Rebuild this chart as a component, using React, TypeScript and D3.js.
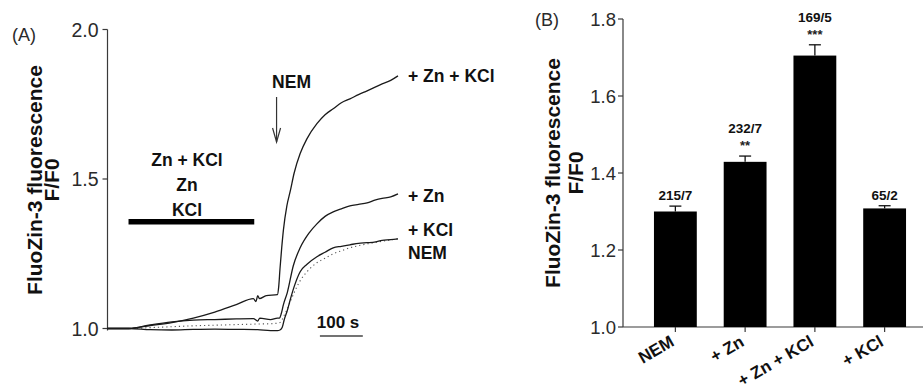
import React from "react";
import * as d3 from "d3";

// ---------- Panel A: time traces ----------
const tZnKCl = [0, 50, 100, 150, 200, 250, 300, 340, 346, 350, 354, 370, 396, 399, 402, 406, 410, 418, 426, 435, 449, 465, 488, 507, 526, 545, 565, 585, 605, 620, 640, 660, 677];
const vZnKCl = [1.0, 1.0, 1.01, 1.02, 1.035, 1.055, 1.08, 1.10, 1.09, 1.11, 1.10, 1.11, 1.113, 1.14, 1.2, 1.27, 1.33, 1.41, 1.46, 1.52, 1.585, 1.635, 1.685, 1.715, 1.735, 1.755, 1.768, 1.782, 1.795, 1.805, 1.818, 1.83, 1.845];

const tZn = [0, 50, 100, 150, 200, 250, 300, 340, 350, 355, 380, 396, 401, 405, 410, 419, 433, 449, 470, 488, 507, 526, 545, 565, 585, 605, 625, 640, 660, 677];
const vZn = [1.0, 1.0, 1.012, 1.022, 1.028, 1.03, 1.032, 1.033, 1.025, 1.035, 1.03, 1.035, 1.035, 1.05, 1.08, 1.12, 1.21, 1.27, 1.32, 1.35, 1.375, 1.39, 1.4, 1.41, 1.415, 1.42, 1.43, 1.435, 1.44, 1.45];

const tKCl = [0, 50, 100, 150, 200, 250, 300, 350, 380, 396, 402, 407, 412, 419, 426, 435, 449, 465, 488, 507, 526, 545, 565, 585, 605, 625, 640, 660, 677];
const vKCl = [1.0, 1.0, 0.996, 0.995, 0.997, 0.998, 0.997, 0.996, 0.993, 0.993, 0.995, 1.003, 1.03, 1.06, 1.097, 1.14, 1.19, 1.215, 1.24, 1.255, 1.27, 1.275, 1.28, 1.285, 1.287, 1.29, 1.295, 1.297, 1.3];

const tNEM = [0, 50, 100, 150, 200, 250, 300, 350, 380, 396, 402, 407, 412, 419, 426, 435, 449, 465, 488, 507, 526, 545, 565, 585, 605, 625, 640, 660, 677];
const vNEM = [1.0, 1.0, 1.003, 1.006, 1.009, 1.011, 1.013, 1.015, 1.016, 1.018, 1.02, 1.03, 1.045, 1.065, 1.09, 1.12, 1.16, 1.19, 1.22, 1.235, 1.25, 1.26, 1.27, 1.277, 1.283, 1.288, 1.292, 1.296, 1.3];

const traceEndLabels = ["+ Zn + KCl", "+ Zn", "+ KCl", "NEM"];
const traceLabelValues = [1.845, 1.445, 1.33, 1.255];
const treatmentLabels = ["Zn + KCl", "Zn", "KCl"];
const treatmentWindow = [49, 342];
const treatmentLevel = 1.357;
const nemTime = 394;
const scaleBarTimes = [495, 595];
const yTicksA = [1.0, 1.5, 2.0];

// ---------- Panel B: bars ----------
const barCategories = ["NEM", "+ Zn", "+ Zn + KCl", "+ KCl"];
const barMeans = [1.3, 1.429, 1.705, 1.308];
const barErrors = [0.014, 0.015, 0.028, 0.007];
const barCounts = ["215/7", "232/7", "169/5", "65/2"];
const barStars = ["", "**", "***", ""];
const yTicksB = [1.0, 1.2, 1.4, 1.6, 1.8];

const FONT = "'Liberation Sans', Arial, Helvetica, sans-serif";
const AXIS = "#3a3a3a";
const TXT = "#2a2a2a";

export default function App() {
  // Panel A scales
  const xA = d3.scaleLinear().domain([0, 677]).range([107.5, 398]);
  const yA = d3.scaleLinear().domain([1, 2]).range([328.5, 29.5]);
  const line = (ts: number[], vs: number[]) =>
    d3.line<number>().x((_, i) => xA(ts[i])).y((v) => yA(v)).curve(d3.curveMonotoneX)(vs) || "";

  // Panel B scales
  const xB = d3.scaleBand<string>().domain(barCategories).range([640.5, 919.5]).paddingInner(0.386).paddingOuter(0.193);
  const yB = d3.scaleLinear().domain([1, 1.8]).range([327, 19]);
  const axB = 623;

  const arrowX = xA(nemTime);

  return (
    <svg width={923} height={391} style={{ position: "absolute", left: 0, top: 0, background: "#fff" }} fontFamily={FONT}>
      {/* ===== Panel A ===== */}
      <text x={12} y={41} fontSize={18} fill={TXT}>(A)</text>
      <g transform="translate(42,180) rotate(-90)">
        <text textAnchor="middle" fontSize={21} fontWeight="bold" fill="#111">FluoZin-3 fluorescence</text>
      </g>
      <g transform="translate(59,180) rotate(-90)">
        <text textAnchor="middle" fontSize={21} fontWeight="bold" fill="#111">F/F0</text>
      </g>
      <line x1={xA(0)} x2={xA(0)} y1={yA(2)} y2={yA(1) + 2} stroke={AXIS} strokeWidth={1.2} />
      {yTicksA.map((t) => (
        <g key={t}>
          <line x1={xA(0) - 5} x2={xA(0)} y1={yA(t)} y2={yA(t)} stroke={AXIS} strokeWidth={1.2} />
          <text x={xA(0) - 9} y={yA(t)} dy="0.36em" textAnchor="end" fontSize={19.5} fill={TXT}>{t.toFixed(1)}</text>
        </g>
      ))}
      {/* traces */}
      <path d={line(tNEM, vNEM)} fill="none" stroke="#555" strokeWidth={1.1} strokeDasharray="1.2,3" />
      <path d={line(tKCl, vKCl)} fill="none" stroke="#1a1a1a" strokeWidth={1.3} />
      <path d={line(tZn, vZn)} fill="none" stroke="#1a1a1a" strokeWidth={1.3} />
      <path d={line(tZnKCl, vZnKCl)} fill="none" stroke="#1a1a1a" strokeWidth={1.3} />
      {/* treatment bar */}
      <line x1={xA(treatmentWindow[0])} x2={xA(treatmentWindow[1])} y1={yA(treatmentLevel)} y2={yA(treatmentLevel)} stroke="#000" strokeWidth={5.5} />
      {treatmentLabels.map((s, i) => (
        <text key={s} x={187} y={166 + i * 25} textAnchor="middle" fontSize={17.5} fontWeight="bold" fill="#111">{s}</text>
      ))}
      {/* NEM arrow */}
      <text x={arrowX + 15} y={88} textAnchor="middle" fontSize={17.5} fontWeight="bold" fill="#111">NEM</text>
      <line x1={arrowX} x2={arrowX} y1={97} y2={142} stroke="#333" strokeWidth={1.2} />
      <polyline points={`${arrowX - 4},${128} ${arrowX},${142} ${arrowX + 4},${128}`} fill="none" stroke="#333" strokeWidth={1.2} />
      {/* end labels */}
      {traceEndLabels.map((s, i) => (
        <text key={s} x={408} y={yA(traceLabelValues[i])} dy="0.36em" fontSize={17.5} fontWeight="bold" fill="#111">{s}</text>
      ))}
      {/* scale bar */}
      <line x1={xA(scaleBarTimes[0])} x2={xA(scaleBarTimes[1])} y1={336} y2={336} stroke="#444" strokeWidth={1.3} />
      <text x={338} y={328} textAnchor="middle" fontSize={17} fontWeight="bold" fill="#111">100 s</text>

      {/* ===== Panel B ===== */}
      <text x={535} y={26} fontSize={18} fill={TXT}>(B)</text>
      <g transform="translate(560,173) rotate(-90)">
        <text textAnchor="middle" fontSize={21} fontWeight="bold" fill="#111">FluoZin-3 fluorescence</text>
      </g>
      <g transform="translate(583,173) rotate(-90)">
        <text textAnchor="middle" fontSize={21} fontWeight="bold" fill="#111">F/F0</text>
      </g>
      <line x1={axB} x2={axB} y1={yB(1.8)} y2={yB(1)} stroke={AXIS} strokeWidth={1.2} />
      <line x1={axB} x2={923} y1={yB(1)} y2={yB(1)} stroke={AXIS} strokeWidth={1.2} />
      {yTicksB.map((t) => (
        <g key={t}>
          <line x1={axB - 5} x2={axB} y1={yB(t)} y2={yB(t)} stroke={AXIS} strokeWidth={1.2} />
          <text x={axB - 7} y={yB(t)} dy="0.36em" textAnchor="end" fontSize={18.5} fill={TXT}>{t.toFixed(1)}</text>
        </g>
      ))}
      {barCategories.map((c, i) => {
        const x0 = xB(c)!;
        const bw = xB.bandwidth();
        const cx = x0 + bw / 2;
        const top = yB(barMeans[i]);
        const eTop = yB(barMeans[i] + barErrors[i]);
        return (
          <g key={c}>
            <line x1={cx} x2={cx} y1={top} y2={eTop} stroke="#111" strokeWidth={1.3} />
            <line x1={cx - 6} x2={cx + 6} y1={eTop} y2={eTop} stroke="#111" strokeWidth={1.3} />
            <rect x={x0} y={top} width={bw} height={yB(1) - top} fill="#000" />
            <line x1={cx} x2={cx} y1={yB(1)} y2={yB(1) + 5} stroke={AXIS} strokeWidth={1.2} />
            {barStars[i] ? (
              <>
                <text x={cx} y={eTop - 6} textAnchor="middle" fontSize={13} fontWeight="bold" fill="#222">{barStars[i]}</text>
                <text x={cx} y={eTop - 23} textAnchor="middle" fontSize={13.5} fontWeight="bold" fill="#111">{barCounts[i]}</text>
              </>
            ) : (
              <text x={cx} y={eTop - 6} textAnchor="middle" fontSize={13.5} fontWeight="bold" fill="#111">{barCounts[i]}</text>
            )}
            <g transform={`translate(${cx},${345}) rotate(-30)`}>
              <text textAnchor="end" fontSize={17} fontWeight="bold" fill="#111">{c}</text>
            </g>
          </g>
        );
      })}
    </svg>
  );
}
